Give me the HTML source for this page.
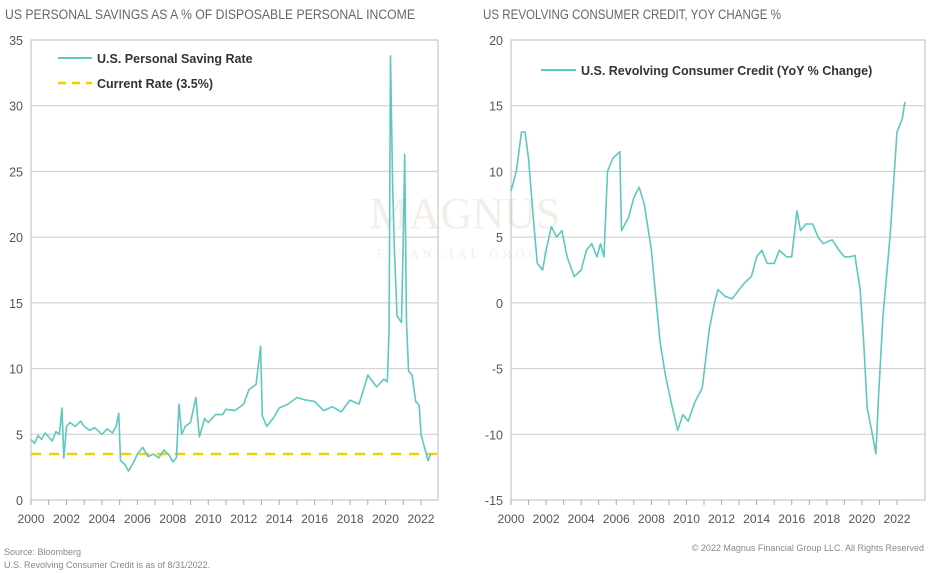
<!DOCTYPE html>
<html><head><meta charset="utf-8"><style>
body{margin:0;background:#fff;width:932px;height:573px;overflow:hidden;font-family:"Liberation Sans",Arial,sans-serif}
svg{display:block}
</style></head><body>
<svg id="s" width="932" height="573" xmlns="http://www.w3.org/2000/svg" font-family="Liberation Sans, Arial, sans-serif">
<text x="5" y="19" font-size="13.5" fill="#666" textLength="410" lengthAdjust="spacingAndGlyphs">US PERSONAL SAVINGS AS A % OF DISPOSABLE PERSONAL INCOME</text>
<text x="483" y="19" font-size="13.5" fill="#666" textLength="298" lengthAdjust="spacingAndGlyphs">US REVOLVING CONSUMER CREDIT, YOY CHANGE %</text>
<text x="465" y="228" font-size="44" fill="#f3eee8" text-anchor="middle" font-family="Liberation Serif, serif">MAGNUS</text>
<text x="465" y="258" font-size="13" fill="#f3eee8" text-anchor="middle" font-family="Liberation Serif, serif" letter-spacing="4">FINANCIAL GROUP</text>
<g id="g"></g>
<text x="4" y="555" font-size="9" fill="#888">Source: Bloomberg</text>
<text x="4" y="568" font-size="9" fill="#888">U.S. Revolving Consumer Credit is as of 8/31/2022.</text>
<text x="924" y="551" font-size="9" fill="#888" text-anchor="end">© 2022 Magnus Financial Group LLC. All Rights Reserved</text>
</svg>
<script>
const g=document.getElementById('g');let h='';
function chart(x0,x1,xr,vmin,vmax){
  const y=v=>500-(v-vmin)*(460/(vmax-vmin));
  for(let v=vmin;v<=vmax;v+=5){const yy=y(v);
    h+=`<line x1="${x0}" x2="${xr}" y1="${yy}" y2="${yy}" stroke="${v==vmin?'#aaa':'#ccc'}" stroke-width="1"/>`;
    h+=`<text x="${x0-8}" y="${yy+5}" font-size="12.5" fill="#555" text-anchor="end">${v}</text>`;}
  h+=`<rect x="${x0}" y="40" width="${xr-x0}" height="460" fill="none" stroke="#bbb"/>`;
  const px=yr=>x0+(yr-2000)*(x1-x0)/22;
  for(let yr=2000;yr<=2022;yr++){h+=`<line x1="${px(yr)}" x2="${px(yr)}" y1="500" y2="505" stroke="#aaa"/>`;
    if(yr%2==0)h+=`<text x="${px(yr)}" y="523" font-size="12" fill="#555" text-anchor="middle" textLength="27" lengthAdjust="spacingAndGlyphs">${yr}</text>`;}
  return [px,y];
}
function line(px,y,d){let p=[];for(let i=0;i<d.length;i+=2)p.push(px(d[i]).toFixed(1)+','+y(d[i+1]).toFixed(1));
  h+=`<polyline points="${p.join(' ')}" fill="none" stroke="#5cc8c0" stroke-width="1.6" stroke-linejoin="round"/>`;}
let [px,y]=chart(31,421,438,0,35);
h+=`<line x1="31" x2="438" y1="${y(3.5)}" y2="${y(3.5)}" stroke="#f5d000" stroke-width="2.5" stroke-dasharray="10,8"/>`;
line(px,y,[2000,4.6,2000.2,4.3,2000.4,4.9,2000.6,4.6,2000.8,5.1,2001,4.8,2001.2,4.5,2001.4,5.2,2001.6,5.0,2001.75,7.0,2001.85,3.2,2002,5.6,2002.2,5.9,2002.5,5.6,2002.8,6.0,2003,5.6,2003.3,5.3,2003.6,5.5,2004,5.0,2004.3,5.4,2004.6,5.1,2004.8,5.6,2004.95,6.6,2005.05,3.0,2005.3,2.7,2005.5,2.2,2005.8,2.9,2006,3.5,2006.3,4.0,2006.6,3.3,2006.9,3.5,2007.2,3.2,2007.5,3.8,2007.8,3.4,2008,2.9,2008.2,3.2,2008.35,7.3,2008.5,5.0,2008.7,5.6,2009,5.9,2009.3,7.8,2009.5,4.8,2009.8,6.2,2010,5.9,2010.4,6.5,2010.8,6.5,2011,6.9,2011.5,6.8,2012,7.3,2012.3,8.4,2012.7,8.8,2012.95,11.7,2013.05,6.4,2013.3,5.6,2013.7,6.3,2014,7.0,2014.5,7.3,2015,7.8,2015.5,7.6,2016,7.5,2016.5,6.8,2017,7.1,2017.5,6.7,2018,7.6,2018.5,7.3,2018.8,8.6,2019,9.5,2019.5,8.6,2019.9,9.2,2020.1,9.0,2020.2,13,2020.28,33.8,2020.4,24,2020.5,19,2020.65,14,2020.9,13.5,2021,20,2021.08,26.3,2021.18,13.5,2021.3,9.8,2021.5,9.5,2021.7,7.5,2021.9,7.2,2022,5,2022.2,4.0,2022.4,3.0,2022.55,3.5]);
h+=`<line x1="58" x2="92" y1="58" y2="58" stroke="#5cc8c0" stroke-width="2"/><text x="97" y="63" font-size="12.5" font-weight="bold" fill="#333">U.S. Personal Saving Rate</text>`;
h+=`<line x1="58" x2="92" y1="83" y2="83" stroke="#f5d000" stroke-width="2.5" stroke-dasharray="8,6"/><text x="97" y="88" font-size="12.5" font-weight="bold" fill="#333">Current Rate (3.5%)</text>`;
[px,y]=chart(511,897,925,-15,20);
line(px,y,[2000,8.5,2000.3,10,2000.6,13,2000.8,13,2001,11,2001.3,6,2001.5,3,2001.8,2.5,2002,4,2002.3,5.8,2002.6,5,2002.9,5.5,2003.2,3.5,2003.6,2,2004,2.5,2004.3,4,2004.6,4.5,2004.9,3.5,2005.1,4.5,2005.3,3.5,2005.5,10,2005.8,11,2006.2,11.5,2006.3,5.5,2006.7,6.5,2007,8,2007.3,8.8,2007.6,7.5,2008,4,2008.5,-3,2008.8,-5.5,2009.2,-8,2009.5,-9.7,2009.8,-8.5,2010.1,-9,2010.5,-7.5,2010.9,-6.5,2011.3,-2,2011.6,0,2011.8,1,2012.2,0.5,2012.6,0.3,2013,1,2013.3,1.5,2013.7,2,2014,3.5,2014.3,4.0,2014.6,3,2015,3,2015.3,4,2015.7,3.5,2016,3.5,2016.3,7,2016.5,5.5,2016.8,6,2017.2,6,2017.5,5,2017.8,4.5,2018.3,4.8,2018.7,4,2019,3.5,2019.3,3.5,2019.6,3.6,2019.9,1,2020.1,-3,2020.3,-8,2020.6,-10,2020.8,-11.5,2020.95,-7,2021.2,-1,2021.4,2,2021.6,5,2021.8,9,2022,13,2022.3,14,2022.45,15.3]);
h+=`<line x1="541" x2="576" y1="70" y2="70" stroke="#5cc8c0" stroke-width="2"/><text x="581" y="75" font-size="12.5" font-weight="bold" fill="#333">U.S. Revolving Consumer Credit (YoY % Change)</text>`;
g.innerHTML=h;
</script>
</body></html>
